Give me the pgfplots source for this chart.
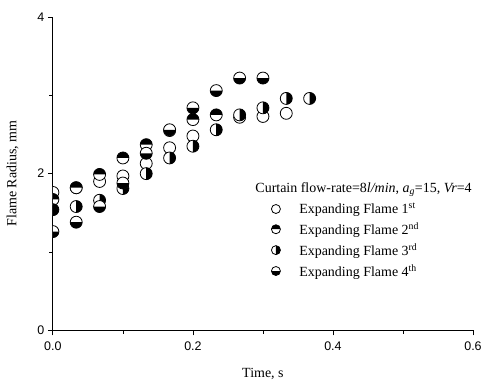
\documentclass[border=0pt]{standalone}
\usepackage{pgfplots}
\pgfplotsset{compat=1.18}
\usepackage{fontspec}
\setmainfont{Liberation Serif}
\newfontfamily\arialf{Liberation Sans}

\pgfdeclareplotmark{hopen}{%
 \pgfpathcircle{\pgfpointorigin}{\pgfplotmarksize}%
 \pgfsetfillcolor{white}\pgfusepath{fill,stroke}%
}
\pgfdeclareplotmark{htop}{%
 \pgfpathcircle{\pgfpointorigin}{\pgfplotmarksize}%
 \pgfsetfillcolor{white}\pgfusepath{fill}%
 \pgfpathmoveto{\pgfqpoint{\pgfplotmarksize}{0pt}}%
 \pgfpatharc{0}{180}{\pgfplotmarksize}%
 \pgfpathclose
 \pgfsetfillcolor{black}\pgfusepath{fill}%
 \pgfpathcircle{\pgfpointorigin}{\pgfplotmarksize}%
 \pgfusepath{stroke}%
}
\pgfdeclareplotmark{hright}{%
 \pgfpathcircle{\pgfpointorigin}{\pgfplotmarksize}%
 \pgfsetfillcolor{white}\pgfusepath{fill}%
 \pgfpathmoveto{\pgfqpoint{0pt}{-\pgfplotmarksize}}%
 \pgfpatharc{-90}{90}{\pgfplotmarksize}%
 \pgfpathclose
 \pgfsetfillcolor{black}\pgfusepath{fill}%
 \pgfpathcircle{\pgfpointorigin}{\pgfplotmarksize}%
 \pgfusepath{stroke}%
}
\pgfdeclareplotmark{hbottom}{%
 \pgfpathcircle{\pgfpointorigin}{\pgfplotmarksize}%
 \pgfsetfillcolor{white}\pgfusepath{fill}%
 \pgfpathmoveto{\pgfqpoint{-\pgfplotmarksize}{0pt}}%
 \pgfpatharc{180}{360}{\pgfplotmarksize}%
 \pgfpathclose
 \pgfsetfillcolor{black}\pgfusepath{fill}%
 \pgfpathcircle{\pgfpointorigin}{\pgfplotmarksize}%
 \pgfusepath{stroke}%
}

\pgfplotsset{myleg/.style={legend image code/.code={%
  \draw[##1,mark size=4.5pt] plot coordinates {(8pt,0pt)};
  \path (0pt,0pt) (29pt,0pt);}}}

\begin{document}
\begin{tikzpicture}
\begin{axis}[
  name=ax,
  scale only axis,
  width=421pt, height=314pt,
  xmin=0, xmax=0.6, ymin=0, ymax=4,
  axis x line=bottom, axis y line=left,
  axis line style={-, line width=0.8pt},
  xtick={0,0.2,0.4,0.6}, ytick={0,2,4},
  minor x tick num=1, minor y tick num=1,
  tick align=outside,
  major tick length=5pt, minor tick length=3.5pt,
  every tick/.style={black, line width=0.8pt},
  xticklabel style={yshift=-3pt, /pgf/number format/.cd, fixed, fixed zerofill, precision=1},
  yticklabel style={/pgf/number format/.cd, fixed, precision=0},
  ticklabel style={font=\arialf\fontsize{12.5}{14}\selectfont},
  /pgf/number format/assume math mode=true,
  xlabel={Time, s}, ylabel={Flame Radius, mm},
  label style={font=\fontsize{14}{16}\selectfont},
  xlabel style={yshift=-11pt},
  ylabel style={yshift=12pt},
  clip marker paths=true,
  legend cell align=left,
  legend style={at={(axis cs:0.302,1.68)}, anchor=north west, draw=none, fill=none,
    font=\fontsize{14}{15}\selectfont, row sep=3.4pt},
]
\addplot[only marks, mark=hopen, mark size=6pt, line width=0.8pt, myleg] coordinates {
(0,1.76) (0.0333,1.82) (0.0667,1.90) (0.1,1.97) (0.1333,2.13) (0.1667,2.33)
(0.2,2.48) (0.2667,2.72) (0.3,2.73) (0.3333,2.77)};
\addlegendentry{Expanding Flame 1\textsuperscript{st}}
\addplot[only marks, mark=htop, mark size=6pt, line width=0.8pt, myleg] coordinates {
(0,1.67) (0.0333,1.82) (0.0667,1.99) (0.1,2.20) (0.1333,2.37) (0.1667,2.55)
(0.2,2.69) (0.2333,2.75)};
\addlegendentry{Expanding Flame 2\textsuperscript{nd}}
\addplot[only marks, mark=hright, mark size=6pt, line width=0.8pt, myleg] coordinates {
(0,1.54) (0.0333,1.58) (0.0667,1.66) (0.1,1.81) (0.1333,2.00) (0.1667,2.20)
(0.2,2.35) (0.2333,2.56) (0.2667,2.75) (0.3,2.84) (0.3333,2.96) (0.3667,2.96)};
\addlegendentry{Expanding Flame 3\textsuperscript{rd}}
\addplot[only marks, mark=hbottom, mark size=6pt, line width=0.8pt, myleg] coordinates {
(0,1.26) (0.0333,1.38) (0.0667,1.58) (0.1,1.88) (0.1333,2.26) (0.1667,2.56)
(0.2,2.84) (0.2333,3.06) (0.2667,3.22) (0.3,3.22)};
\addlegendentry{Expanding Flame 4\textsuperscript{th}}
\node[anchor=west, inner sep=0pt, font=\fontsize{14}{15}\selectfont] at (axis cs:0.289,1.80)
  {Curtain flow-rate=8\textit{l/min}, \textit{a}\textsubscript{\textit{g}}=15, \textit{Vr}=4};
\end{axis}
\path ([xshift=-53pt,yshift=-51pt]ax.south west) rectangle ([xshift=11pt,yshift=17pt]ax.north east);
\end{tikzpicture}
\end{document}
